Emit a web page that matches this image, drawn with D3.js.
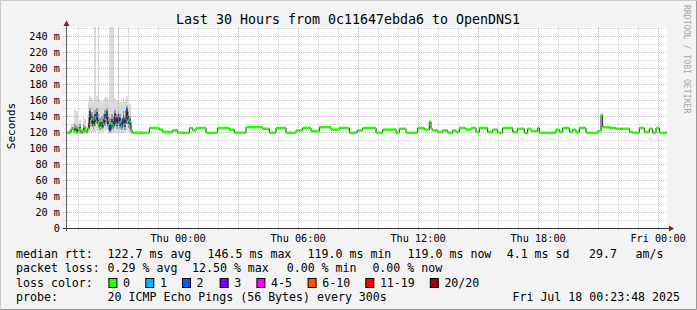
<!DOCTYPE html>
<meta charset="utf-8">
<style>
body { margin: 0; background: #f3f3f3; }
svg { display: block; font-family: "DejaVu Sans Mono", monospace; }
</style>
<body>
<script src="https://d3js.org/d3.v7.min.js"></script>
<script>
var width = 697, height = 310;
var plotLeft = 66, plotRight = 666, plotTop = 28, plotBottom = 228;

var title = "Last 30 Hours from 0c11647ebda6 to OpenDNS1";
var endTime = Date.UTC(2025, 6, 18, 0, 23, 48),
    hours = 30,
    step = 300; // seconds per sample

// first 40 samples: the smoky part (values in ms)
var smokeMedian = [119,119,119,124,124,121,119,124,123,119,121,123,121,124,142,136,128,137,140,131,
                   126,125,130,136,142,128,122,130,127,139,130,138,132,127,136,130,147,135,133,121];
var smokeLoss   = [0,0,0,0,0,0,0,0,0,0,0,0,0,0,2,0,0,1,2,0,
                   0,0,1,1,2,1,2,0,1,2,1,3,1,1,2,1,2,1,0,0];
var smokeLo  = [118,118,118,119,118,118,117,119,118,117,118,118,118,119,120,120,119,120,121,119,
                119,120,120,121,122,119,118,119,119,120,119,120,119,118,120,119,121,120,119,118];
var smokeP25 = [119,119,119,122,121,120,119,121,120,118,120,120,119,122,128,126,124,127,130,125,
                123,124,125,128,130,124,121,124,123,128,124,127,124,122,126,123,130,125,124,119];
var smokeP75 = [120,120,121,126,126,130,128,126,130,121,130,127,123,138,150,145,140,148,150,142,
                138,140,142,148,150,140,138,142,140,148,142,146,142,138,146,140,152,145,140,123];
var smokeHi  = [121,122,123,130,132,147,146,131,135,124,139,136,128,158,165,162,158,262,165,262,
                160,158,160,163,164,160,262,262,262,163,160,262,158,157,162,158,165,262,155,128];

// remaining 320 samples as [count, median ms]
var medianRuns = [
  [10,119],[6,125],[2,123],[6,120],[3,122],[7,119],[2,125],[2,122],[6,125],[7,119],
  [7,125],[3,123],[7,119],[10,126],[4,124],[4,119],[6,125],[6,119],[4,122],[5,125],
  [5,121],[7,126],[5,123],[6,125],[4,119],[1,120],[3,122],[8,125],[4,119],[8,123],[2,119],
  [4,124],[7,119],[4,125],[3,123],[1,133],[1,124],[3,122],[3,120],[3,122],[3,119],
  [2,122],[2,120],[4,125],[3,123],[3,125],[2,120],[5,125],[3,120],[3,123],[3,119],
  [6,125],[3,120],[4,124],[2,119],[2,124],[4,121],[1,125],[10,119],[2,123],[2,120],
  [4,125],[2,120],[2,123],[2,120],[4,125],[7,119],[2,121],[1,141.5],[4,126],[4,125],
  [8,124],[2,120],[4,119],[3,125],[3,120],[2,124],[2,119],[2,125],[3,119],[4,119]
];
// [sample index, lost pings] outside the smoky part
var lossEvents = [[174, 1]];

var yTicks = [0,20,40,60,80,100,120,140,160,180,200,220,240];
var lossLabels = ["0","1","2","3","4-5","6-10","11-19","20/20"];
var lossColors = ["#26ff00","#00b8ff","#0059ff","#7e00ff","#ff00ff","#ff5500","#ff0000","#a00000"];
var rttStats  = ["122.7 ms avg","146.5 ms max","119.0 ms min","119.0 ms now","4.1 ms sd","29.7","am/s"];
var lossStats = ["0.29 % avg","12.50 % max","0.00 % min","0.00 % now"];
var probeText = "20 ICMP Echo Pings (56 Bytes) every 300s";
var stampText = "Fri Jul 18 00:23:48 2025";

// build the full series
var medians = smokeMedian.slice();
medianRuns.forEach(function(r) { for (var k = 0; k < r[0]; k++) medians.push(r[1]); });
var losses = medians.map(function(d, i) { return i < smokeLoss.length ? smokeLoss[i] : 0; });
lossEvents.forEach(function(e) { losses[e[0]] = e[1]; });

var startTime = endTime - hours * 3600 * 1000;
function t(i) { return new Date(startTime + i * step * 1000); }

var x = d3.scaleUtc().domain([new Date(startTime), new Date(endTime)]).range([plotLeft, plotRight]);
var y = d3.scaleLinear().domain([0, 250]).range([plotBottom, plotTop]);

function lossColor(l) {
  if (l <= 3) return lossColors[l];
  if (l <= 5) return lossColors[4];
  if (l <= 10) return lossColors[5];
  if (l <= 19) return lossColors[6];
  return lossColors[7];
}

var svg = d3.select("body").append("svg")
    .attr("width", width)
    .attr("height", height);

// frame
svg.append("rect").attr("width", width).attr("height", height).attr("fill", "#f3f3f3");
svg.append("path").attr("d", "M0.5," + (height - 0.5) + "V0.5H" + (width - 0.5))
    .attr("fill", "none").attr("stroke", "#cbcbcb").attr("stroke-width", 1);
svg.append("path").attr("d", "M" + (width - 0.5) + ",0.5V" + (height - 0.5) + "H0.5")
    .attr("fill", "none").attr("stroke", "#999").attr("stroke-width", 1);

// canvas
svg.append("rect")
    .attr("x", plotLeft).attr("y", plotTop - 1)
    .attr("width", plotRight - plotLeft + 1).attr("height", plotBottom - plotTop + 1)
    .attr("fill", "#fff");

svg.append("clipPath").attr("id", "clip").append("rect")
    .attr("x", plotLeft).attr("y", plotTop - 1)
    .attr("width", plotRight - plotLeft + 1).attr("height", plotBottom - plotTop + 1);

var plot = svg.append("g").attr("clip-path", "url(#clip)");

// smoke
var smoke = plot.append("g").attr("shape-rendering", "crispEdges");
smokeLo.forEach(function(lo, i) {
  var x0 = x(t(i)), x1 = x(t(i + 1)), m = smokeMedian[i];
  smoke.append("rect").attr("x", x0).attr("width", x1 - x0)
      .attr("y", y(smokeHi[i])).attr("height", y(lo) - y(smokeHi[i])).attr("fill", "#dadada");
  smoke.append("rect").attr("x", x0).attr("width", x1 - x0)
      .attr("y", y(smokeP75[i])).attr("height", y(smokeP25[i]) - y(smokeP75[i])).attr("fill", "#9c9c9c");
  var a = (smokeP75[i] + m) / 2, b = (smokeP25[i] + m) / 2;
  smoke.append("rect").attr("x", x0).attr("width", x1 - x0)
      .attr("y", y(a)).attr("height", y(b) - y(a)).attr("fill", "#4a4a4a");
});

// grid
var grid = svg.append("g").attr("fill", "none").attr("stroke-width", 1).attr("stroke-dasharray", "1,1");
x.ticks(d3.utcHour.every(1)).forEach(function(d) {
  var px = Math.round(x(d)) + 0.5;
  grid.append("line").attr("x1", px).attr("x2", px).attr("y1", plotTop - 1).attr("y2", plotBottom + 3)
      .attr("stroke", d.getUTCHours() % 3 === 0 ? "rgba(255,128,128,0.7)" : "rgba(180,180,180,0.6)");
});
d3.range(10, 251, 10).forEach(function(v) {
  var py = Math.round(y(v)) + 0.5;
  grid.append("line").attr("x1", plotLeft - 3).attr("x2", plotRight).attr("y1", py).attr("y2", py)
      .attr("stroke", v % 20 === 0 ? "rgba(255,128,128,0.7)" : "rgba(180,180,180,0.6)");
});

// median line and loss-coloured bands
var line = d3.line().curve(d3.curveStepAfter)
    .x(function(d) { return x(t(d[0])); })
    .y(function(d) { return y(d[1]); });
var pts = medians.map(function(m, i) { return [i, m]; });
pts.push([medians.length, medians[medians.length - 1]]);
plot.append("path").attr("d", line(pts))
    .attr("fill", "none").attr("stroke", "#202020").attr("stroke-width", 1);

plot.append("g").selectAll("rect").data(medians).join("rect")
    .attr("x", function(d, i) { return x(t(i)); })
    .attr("width", function(d, i) { return x(t(i + 1)) - x(t(i)); })
    .attr("y", function(d) { return y(d) - 1.3; })
    .attr("height", 2.6)
    .attr("fill", function(d, i) { return lossColor(losses[i]); });

// axes
svg.append("line").attr("x1", plotLeft - 3).attr("x2", plotRight + 3)
    .attr("y1", plotBottom + 0.5).attr("y2", plotBottom + 0.5)
    .attr("stroke", "#303030").attr("stroke-width", 1);
svg.append("line").attr("x1", plotLeft + 0.5).attr("x2", plotLeft + 0.5)
    .attr("y1", plotBottom + 3).attr("y2", plotTop - 4)
    .attr("stroke", "#606060").attr("stroke-width", 1);
svg.append("path").attr("d", "M63.5,26L69.5,26L66.5,20.5Z").attr("fill", "#8b1a1a");
svg.append("path").attr("d", "M669,225.5L669,231.5L674,228.5Z").attr("fill", "#8b1a1a");

// y labels
svg.append("g").selectAll("text").data(yTicks).join("text")
    .attr("x", 60).attr("y", function(d) { return y(d) + 3.7; })
    .attr("text-anchor", "end").attr("font-size", "10.2px").attr("fill", "#000")
    .text(function(d) { return d === 0 ? "0" : d + " m"; });

// x labels
var fmt = d3.utcFormat("%a %H:%M");
svg.append("g").selectAll("text").data(x.ticks(d3.utcHour.every(6))).join("text")
    .attr("x", function(d) { return x(d); }).attr("y", 242)
    .attr("text-anchor", "middle").attr("font-size", "10.2px").attr("fill", "#000")
    .text(function(d) { return fmt(d); });

// title and side texts
svg.append("text").attr("x", 348).attr("y", 24).attr("text-anchor", "middle")
    .attr("font-size", "13.3px").attr("fill", "#000").text(title);
svg.append("text").attr("transform", "translate(15,126) rotate(-90)").attr("text-anchor", "middle")
    .attr("font-size", "11px").attr("fill", "#000").text("Seconds");
svg.append("text").attr("transform", "translate(684,5) rotate(90)")
    .attr("font-size", "8.2px").attr("fill", "#a8a8a8").text("RRDTOOL / TOBI OETIKER");

// legend
var legend = svg.append("g").attr("font-size", "11.6px").attr("fill", "#000");
var rowY = [258, 272, 287, 301];
var rttX = [107.6, 207.6, 307.6, 407.6, 506.7, 589, 635.6];
var lossX = [107.6, 192, 286.7, 372.4];
var boxX = [108.4, 145.3, 182, 219.6, 256.4, 307.6, 365.3, 429.8];

legend.append("text").attr("x", 16).attr("y", rowY[0]).text("median rtt:");
rttStats.forEach(function(s, i) { legend.append("text").attr("x", rttX[i]).attr("y", rowY[0]).text(s); });
legend.append("text").attr("x", 16).attr("y", rowY[1]).text("packet loss:");
lossStats.forEach(function(s, i) { legend.append("text").attr("x", lossX[i]).attr("y", rowY[1]).text(s); });
legend.append("text").attr("x", 16).attr("y", rowY[2]).text("loss color:");
lossLabels.forEach(function(s, i) {
  legend.append("rect").attr("x", boxX[i] + 0.5).attr("y", rowY[2] - 8.5).attr("width", 8).attr("height", 9)
      .attr("fill", lossColors[i]).attr("stroke", "#000").attr("stroke-width", 1);
  legend.append("text").attr("x", boxX[i] + 14.6).attr("y", rowY[2]).text(s);
});
legend.append("text").attr("x", 16).attr("y", rowY[3]).text("probe:");
legend.append("text").attr("x", 107.6).attr("y", rowY[3]).text(probeText);
legend.append("text").attr("x", 680).attr("y", rowY[3]).attr("text-anchor", "end").text(stampText);
</script>
</body>
